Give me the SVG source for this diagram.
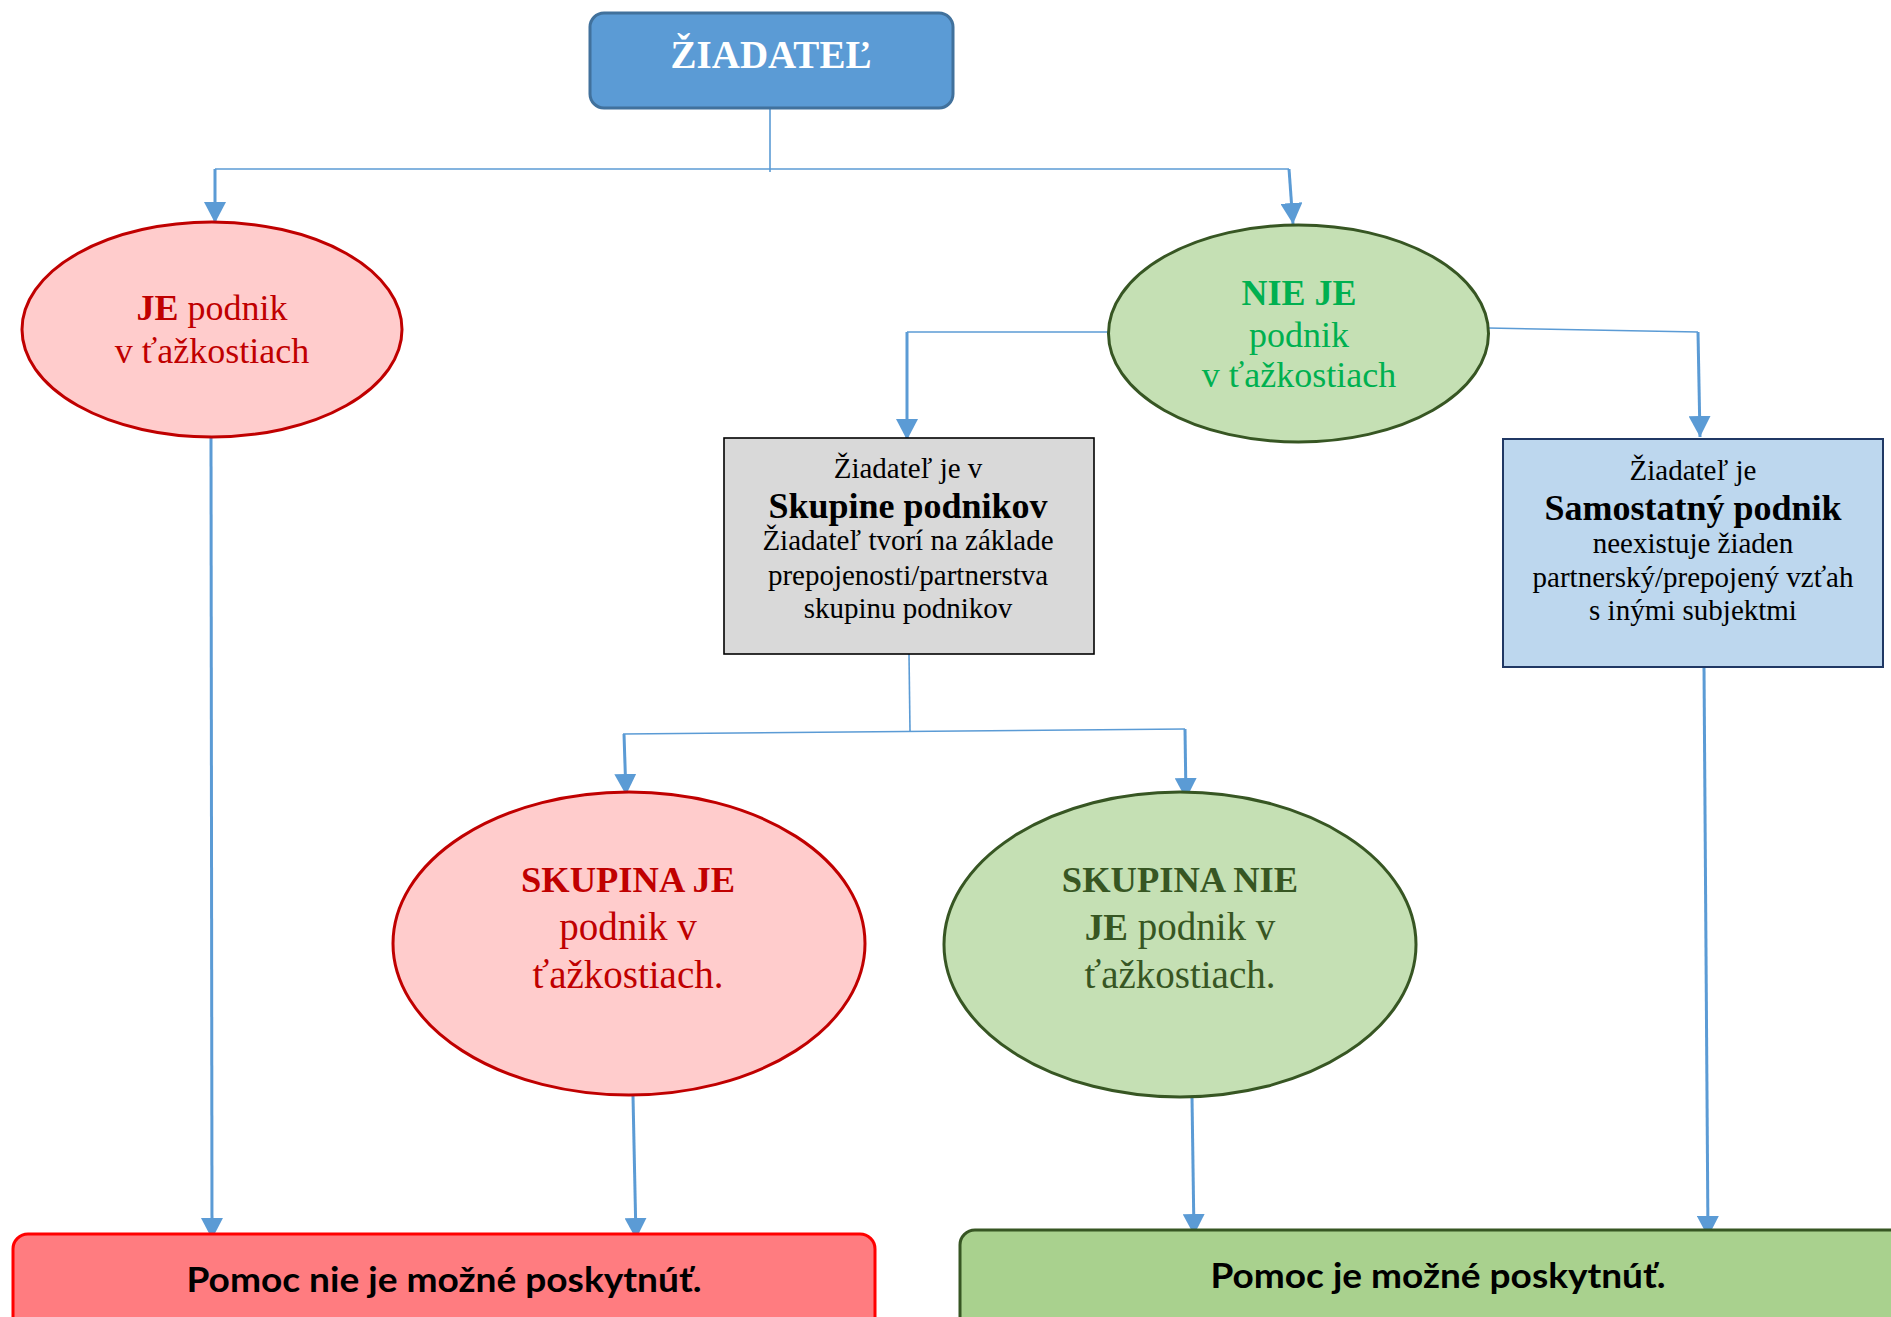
<svg xmlns="http://www.w3.org/2000/svg" width="1891" height="1317" viewBox="0 0 1891 1317">
<defs>
<marker id="arr" viewBox="0 0 21 22" refX="21" refY="11" markerWidth="21" markerHeight="22" markerUnits="userSpaceOnUse" orient="auto">
<path d="M0,0 L21,11 L0,22 z" fill="#5b9bd5"/>
</marker>
<style>
.thin{stroke:#5b9bd5;stroke-width:1.6;fill:none}
.arrow{stroke:#5b9bd5;stroke-width:3;fill:none;marker-end:url(#arr)}
.serif{font-family:"Liberation Serif","Times New Roman",serif;text-anchor:middle}
.sans{font-family:Lato,"Liberation Sans",sans-serif;font-weight:bold;text-anchor:middle;fill:#000}
.b{font-weight:bold}
</style>
</defs>
<rect width="1891" height="1317" fill="#ffffff"/>

<g id="connectors">
<line class="thin" x1="770" y1="108" x2="770" y2="172"/>
<line class="thin" x1="215" y1="169" x2="1289" y2="169"/>
<line class="arrow" x1="215" y1="169" x2="215" y2="223"/>
<line class="arrow" x1="1289" y1="169" x2="1293" y2="224"/>
<line class="thin" x1="1109" y1="332" x2="907" y2="332"/>
<line class="arrow" x1="907" y1="332" x2="907" y2="440"/>
<line class="thin" x1="1488" y1="328" x2="1698" y2="332"/>
<line class="arrow" x1="1698" y1="332" x2="1700" y2="437"/>
<line class="thin" x1="909" y1="654" x2="910" y2="731"/>
<line class="thin" x1="623" y1="734" x2="1185" y2="729"/>
<line class="arrow" x1="624" y1="734" x2="626" y2="795"/>
<line class="arrow" x1="1185" y1="729" x2="1186" y2="799"/>
<line class="arrow" x1="211" y1="437" x2="212" y2="1239"/>
<line class="arrow" x1="633" y1="1096" x2="636" y2="1239"/>
<line class="arrow" x1="1192" y1="1097" x2="1194" y2="1235"/>
<line class="arrow" x1="1704" y1="667" x2="1708" y2="1237"/>
</g>

<g id="ziadatel">
<rect x="590" y="13" width="363" height="95" rx="14" fill="#5b9bd5" stroke="#41719c" stroke-width="3"/>
<text class="serif b" x="771" y="68" font-size="39" fill="#ffffff">ŽIADATEĽ</text>
</g>

<g id="je-podnik">
<ellipse cx="212" cy="329.5" rx="190" ry="107.5" fill="#ffcccc" stroke="#c00000" stroke-width="3"/>
<text class="serif" font-size="36" fill="#c00000"><tspan x="212" y="320"><tspan class="b">JE</tspan> podnik</tspan><tspan x="212" y="363">v ťažkostiach</tspan></text>
</g>

<g id="nie-je-podnik">
<ellipse cx="1298.5" cy="333.5" rx="190" ry="108.5" fill="#c5e0b4" stroke="#375623" stroke-width="3"/>
<text class="serif" font-size="36" fill="#00b050"><tspan class="b" x="1299" y="305">NIE JE</tspan><tspan x="1299" y="347">podnik</tspan><tspan x="1299" y="387">v ťažkostiach</tspan></text>
</g>

<g id="skupina-podnikov">
<rect x="724" y="438" width="370" height="216" fill="#d9d9d9" stroke="#000000" stroke-width="1.6"/>
<text class="serif" font-size="29" fill="#000"><tspan x="908" y="478">Žiadateľ je v</tspan><tspan class="b" x="908" y="518" font-size="36">Skupine podnikov</tspan><tspan x="908" y="550">Žiadateľ tvorí na základe</tspan><tspan x="908" y="585">prepojenosti/partnerstva</tspan><tspan x="908" y="618">skupinu podnikov</tspan></text>
</g>

<g id="samostatny-podnik">
<rect x="1503" y="439" width="380" height="228" fill="#bdd7ee" stroke="#203864" stroke-width="2"/>
<text class="serif" font-size="29" fill="#000"><tspan x="1693" y="480">Žiadateľ je</tspan><tspan class="b" x="1693" y="520" font-size="36">Samostatný podnik</tspan><tspan x="1693" y="553">neexistuje žiaden</tspan><tspan x="1693" y="587">partnerský/prepojený vzťah</tspan><tspan x="1693" y="620">s inými subjektmi</tspan></text>
</g>

<g id="skupina-je">
<ellipse cx="629" cy="943.5" rx="236" ry="151.5" fill="#ffcccc" stroke="#c00000" stroke-width="3"/>
<text class="serif" font-size="39" fill="#c00000"><tspan class="b" x="628" y="892" font-size="36.5">SKUPINA JE</tspan><tspan x="628" y="940">podnik v</tspan><tspan x="628" y="988">ťažkostiach.</tspan></text>
</g>

<g id="skupina-nie-je">
<ellipse cx="1180" cy="944.5" rx="236" ry="152.5" fill="#c5e0b4" stroke="#375623" stroke-width="3"/>
<text class="serif" font-size="39" fill="#375623"><tspan class="b" x="1180" y="892" font-size="36.5">SKUPINA NIE</tspan><tspan x="1180" y="940"><tspan class="b" font-size="37">JE</tspan> podnik v</tspan><tspan x="1180" y="988">ťažkostiach.</tspan></text>
</g>

<g id="pomoc-nie">
<rect x="13" y="1234" width="862" height="110" rx="15" fill="#ff7c80" stroke="#ff0000" stroke-width="3"/>
<text class="sans" x="444" y="1292" font-size="34" textLength="515" lengthAdjust="spacingAndGlyphs">Pomoc nie je možné poskytnúť.</text>
</g>

<g id="pomoc-je">
<rect x="960" y="1230" width="960" height="110" rx="15" fill="#a9d18e" stroke="#375623" stroke-width="3"/>
<text class="sans" x="1438" y="1288" font-size="34" textLength="455" lengthAdjust="spacingAndGlyphs">Pomoc je možné poskytnúť.</text>
</g>
</svg>
